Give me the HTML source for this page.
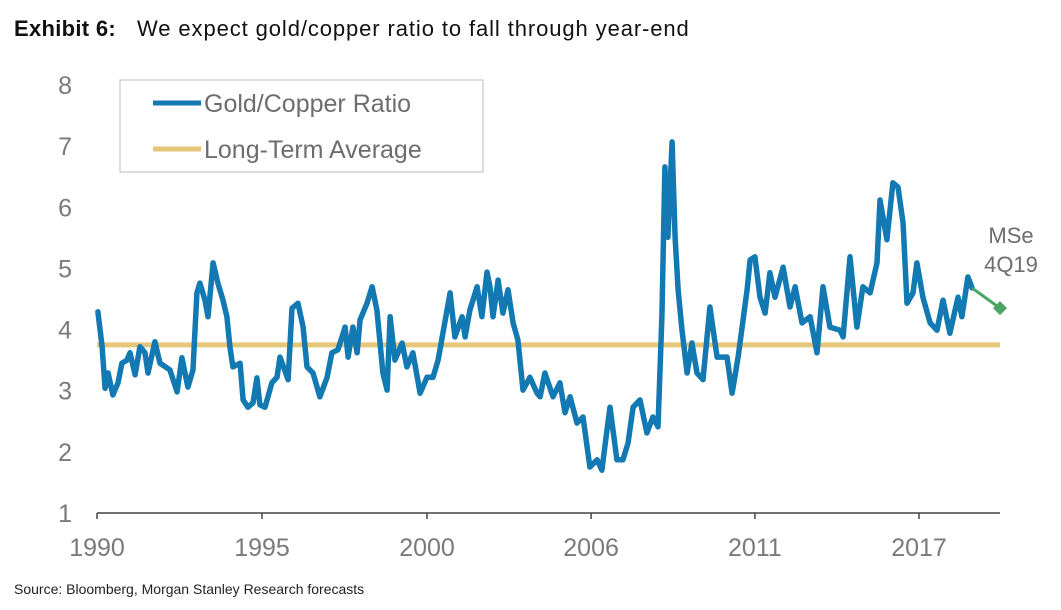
<!DOCTYPE html>
<html><head><meta charset="utf-8"><style>
body{margin:0;background:#fff;width:1061px;height:605px;overflow:hidden;font-family:"Liberation Sans",sans-serif}
</style></head><body>
<svg id="chart" width="1061" height="605" xmlns="http://www.w3.org/2000/svg">
<text y="36" fill="#111"><tspan x="14" font-weight="bold" font-size="22" letter-spacing="0.3">Exhibit 6:</tspan><tspan x="137" font-size="22" letter-spacing="0.9">We expect gold/copper ratio to fall through year-end</tspan></text>
<text x="14" y="594" font-size="14" fill="#222">Source: Bloomberg, Morgan Stanley Research forecasts</text>
<g id="yaxis"></g>
<g id="xaxis"></g>
<g id="series"></g>
<g>
<rect x="120" y="80" width="363" height="92" fill="#fff" stroke="#bbb" stroke-width="1"/>
<line x1="153" y1="103" x2="201" y2="103" stroke="#1279b2" stroke-width="5"/>
<text x="204" y="112" font-size="25" fill="#6d6d6d">Gold/Copper Ratio</text>
<line x1="153" y1="149" x2="201" y2="149" stroke="#e6c77a" stroke-width="5"/>
<text x="204" y="158" font-size="25" fill="#6d6d6d">Long-Term Average</text>
</g>
<text font-size="22" fill="#6d6d6d" text-anchor="middle"><tspan x="1011" y="243">MSe</tspan><tspan x="1011" y="272">4Q19</tspan></text>
</svg>
<script>
const yTicks=[1,2,3,4,5,6,7,8];
const xTickT=[0,5.5,11,16.47,21.93,27.4];
const xTickLabels=["1990","1995","2000","2006","2011","2017"];
const ratioT=[0.03,0.17,0.27,0.37,0.53,0.70,0.83,1.00,1.10,1.27,1.43,1.60,1.70,1.93,2.10,2.43,2.67,2.83,3.03,3.20,3.33,3.43,3.60,3.70,3.87,4.03,4.20,4.33,4.43,4.53,4.77,4.87,5.03,5.20,5.33,5.43,5.60,5.83,6.00,6.10,6.37,6.50,6.70,6.87,7.00,7.20,7.43,7.67,7.83,8.03,8.27,8.37,8.53,8.67,8.77,9.00,9.17,9.33,9.53,9.67,9.77,9.93,10.17,10.33,10.53,10.77,11.00,11.20,11.37,11.53,11.77,11.93,12.17,12.27,12.43,12.67,12.83,13.00,13.10,13.20,13.37,13.53,13.70,13.87,14.03,14.20,14.43,14.67,14.77,14.93,15.20,15.43,15.60,15.77,16.00,16.20,16.43,16.67,16.83,17.00,17.10,17.33,17.53,17.70,17.87,18.10,18.33,18.53,18.70,18.83,18.93,19.03,19.17,19.27,19.37,19.50,19.67,19.83,20.00,20.20,20.43,20.67,21.00,21.17,21.37,21.67,21.77,21.93,22.10,22.27,22.43,22.60,22.87,23.10,23.27,23.50,23.77,24.00,24.20,24.43,24.77,24.87,25.10,25.33,25.53,25.77,26.00,26.10,26.33,26.53,26.70,26.87,27.00,27.20,27.33,27.53,27.77,28.00,28.20,28.43,28.70,28.83,29.03,29.17];
const ratioValues=[4.29,3.72,3.04,3.29,2.93,3.13,3.45,3.50,3.62,3.26,3.72,3.62,3.29,3.80,3.45,3.34,2.98,3.54,3.06,3.34,4.60,4.76,4.48,4.21,5.09,4.76,4.48,4.21,3.72,3.39,3.45,2.85,2.73,2.80,3.21,2.77,2.73,3.13,3.22,3.55,3.18,4.35,4.43,4.04,3.39,3.29,2.90,3.22,3.62,3.67,4.04,3.55,4.04,3.62,4.16,4.43,4.70,4.32,3.29,3.01,4.21,3.50,3.78,3.39,3.62,2.96,3.22,3.22,3.50,3.94,4.60,3.88,4.21,3.88,4.32,4.70,4.21,4.94,4.70,4.21,4.81,4.27,4.65,4.11,3.83,3.01,3.22,2.96,2.90,3.29,2.90,3.13,2.64,2.90,2.47,2.57,1.75,1.87,1.70,2.36,2.73,1.87,1.87,2.14,2.73,2.85,2.31,2.57,2.41,4.21,6.66,5.51,7.07,5.51,4.65,3.99,3.29,3.78,3.29,3.18,4.37,3.55,3.55,2.96,3.55,4.65,5.14,5.19,4.53,4.27,4.93,4.53,5.02,4.37,4.70,4.11,4.21,3.62,4.70,4.04,3.99,3.88,5.19,4.04,4.70,4.60,5.09,6.12,5.47,6.40,6.33,5.74,4.43,4.60,5.09,4.53,4.11,3.99,4.48,3.94,4.53,4.21,4.86,4.68];
const averageValue=[3.75];
const forecastT=[29.17,30.10];
const forecastValues=[4.68,4.35];
const averageRange=[0,30.1];

const NS="http://www.w3.org/2000/svg";
const X0=97,PX_PER_YEAR=30,Y0=513,PX_PER_UNIT=61.14;
const xs=t=>X0+t*PX_PER_YEAR;
const ys=v=>Y0-(v-1)*PX_PER_UNIT;
function mk(tag,attrs,parent){const e=document.createElementNS(NS,tag);for(const k in attrs)e.setAttribute(k,attrs[k]);parent.appendChild(e);return e;}
const ya=document.getElementById('yaxis'),xa=document.getElementById('xaxis'),sg=document.getElementById('series');
yTicks.forEach(v=>{const t=mk('text',{x:72,y:ys(v)+9,'font-size':25,fill:'#7a7a7a','text-anchor':'end'},ya);t.textContent=v;

});
const ax=mk('line',{x1:97,y1:Y0,x2:1000,y2:Y0,stroke:'#444','stroke-width':1.5},xa);


xTickT.forEach((t,i)=>{const tk=mk('line',{x1:xs(t),y1:Y0,x2:xs(t),y2:Y0+6,stroke:'#444','stroke-width':1.5},xa);


const lb=mk('text',{x:xs(t),y:556,'font-size':25,fill:'#7a7a7a','text-anchor':'middle'},xa);lb.textContent=xTickLabels[i];

});
const avg=mk('line',{x1:xs(averageRange[0]),y1:ys(averageValue[0]),x2:xs(averageRange[1]),y2:ys(averageValue[0]),stroke:'#e6c77a','stroke-width':5},sg);


const pts=ratioT.map((t,i)=>xs(t).toFixed(1)+','+ys(ratioValues[i]).toFixed(1)).join(' ');
const rl=mk('polyline',{points:pts,fill:'none',stroke:'#1279b2','stroke-width':5.5,'stroke-linejoin':'round','stroke-linecap':'round'},sg);


const fpts=forecastT.map((t,i)=>xs(t)+','+ys(forecastValues[i])).join(' ');
const fl=mk('polyline',{points:fpts,fill:'none',stroke:'#4aa564','stroke-width':3},sg);


const fx=xs(forecastT[1]),fy=ys(forecastValues[1]);
const dm=mk('polygon',{points:`${fx},${fy-7} ${fx+7},${fy} ${fx},${fy+7} ${fx-7},${fy}`,fill:'#4aa564'},sg);


</script>
</body></html>
